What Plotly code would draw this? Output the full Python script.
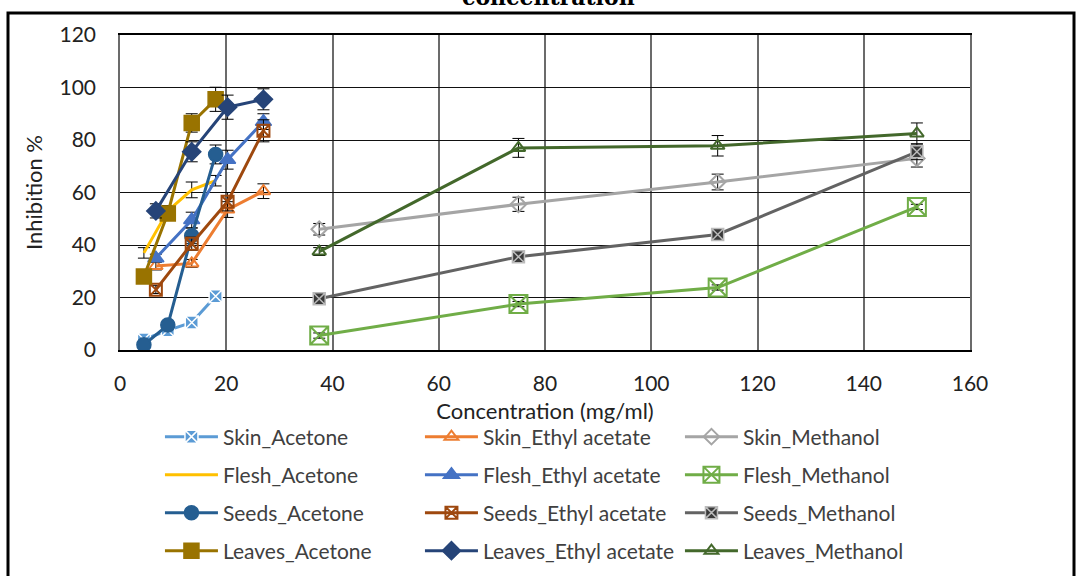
import plotly.graph_objects as go

# concentrations (mg/ml)
conc_acetone = [4.5, 9, 13.5, 18]
conc_ethyl = [6.75, 13.5, 20.25, 27]
conc_methanol = [37.5, 75, 112.5, 150]

# inhibition % values
skin_acetone = [4, 7.5, 10.5, 20.5]
skin_ethyl = [32, 33, 53.5, 60.5]
skin_methanol = [46, 55.5, 64, 73]
flesh_acetone = [37, 53, 61, 64.5]
flesh_ethyl = [35, 49.5, 72.5, 87]
flesh_methanol = [5.5, 17.5, 23.8, 54.5]
seeds_acetone = [2, 9.5, 43.5, 74.5]
seeds_ethyl = [23, 40.5, 56.5, 83.5]
seeds_methanol = [19.5, 35.5, 44, 75.5]
leaves_acetone = [28, 52, 86.5, 95.5]
leaves_ethyl = [53, 75.5, 92.5, 95.5]
leaves_methanol = [37.5, 77, 77.8, 82.5]

# error values
err_skin_acetone = [1, 1, 1, 1.5]
err_skin_ethyl = [1.5, 1.5, 3, 2.8]
err_skin_methanol = [2.2, 2.7, 3, 3.3]
err_flesh_acetone = [2, 2, 3, 2]
err_flesh_ethyl = [1.5, 3, 3.6, 3]
err_flesh_methanol = [1, 1, 1, 1]
err_seeds_acetone = [1, 1.5, 3, 3.6]
err_seeds_ethyl = [1.5, 2.5, 3.5, 4.2]
err_seeds_methanol = [1, 1, 1.5, 3]
err_leaves_acetone = [1.5, 2, 3.5, 4.6]
err_leaves_ethyl = [2.7, 3.8, 4.6, 4]
err_leaves_methanol = [1.5, 3.6, 3.9, 4]

x_ticks = [0, 20, 40, 60, 80, 100, 120, 140, 160]
y_ticks = [0, 20, 40, 60, 80, 100, 120]

series = [
    # name, x, y, err, color, symbol, size, marker fill, marker line color, legend
    ("Skin_Acetone", conc_acetone, skin_acetone, err_skin_acetone, "#5B9BD5", "square-x", 13, "#5B9BD5", "white", "legend"),
    ("Skin_Ethyl acetate", conc_ethyl, skin_ethyl, err_skin_ethyl, "#ED7D31", "triangle-up-open", 12, "#ED7D31", "#ED7D31", "legend"),
    ("Skin_Methanol", conc_methanol, skin_methanol, err_skin_methanol, "#A5A5A5", "diamond-open", 12, "#A5A5A5", "#A5A5A5", "legend"),
    ("Flesh_Acetone", conc_acetone, flesh_acetone, err_flesh_acetone, "#FFC000", None, 0, "#FFC000", "#FFC000", "legend2"),
    ("Flesh_Ethyl acetate", conc_ethyl, flesh_ethyl, err_flesh_ethyl, "#4472C4", "triangle-up", 14, "#4472C4", "#4472C4", "legend2"),
    ("Flesh_Methanol", conc_methanol, flesh_methanol, err_flesh_methanol, "#70AD47", "square-x-open", 18, "#70AD47", "#70AD47", "legend2"),
    ("Seeds_Acetone", conc_acetone, seeds_acetone, err_seeds_acetone, "#255E91", "circle", 14, "#255E91", "#255E91", "legend3"),
    ("Seeds_Ethyl acetate", conc_ethyl, seeds_ethyl, err_seeds_ethyl, "#9E480E", "square-x-open", 12, "#9E480E", "#9E480E", "legend3"),
    ("Seeds_Methanol", conc_methanol, seeds_methanol, err_seeds_methanol, "#636363", "square-x", 12, "#3a3a3a", "#bbbbbb", "legend3"),
    ("Leaves_Acetone", conc_acetone, leaves_acetone, err_leaves_acetone, "#997300", "square", 15, "#997300", "#997300", "legend4"),
    ("Leaves_Ethyl acetate", conc_ethyl, leaves_ethyl, err_leaves_ethyl, "#264478", "diamond", 14, "#264478", "#264478", "legend4"),
    ("Leaves_Methanol", conc_methanol, leaves_methanol, err_leaves_methanol, "#43682B", "triangle-up-open", 12, "#43682B", "#43682B", "legend4"),
]

fig = go.Figure()
for name, xs, ys, err, color, sym, size, fill, lcol, leg in series:
    kw = dict(
        x=xs, y=ys, name=name, legend=leg,
        line=dict(color=color, width=3),
        error_y=dict(type="data", array=err, visible=True, color="black", thickness=1, width=6),
    )
    if sym is None:
        kw["mode"] = "lines"
    else:
        kw["mode"] = "lines+markers"
        kw["marker"] = dict(symbol=sym, size=size, color=fill,
                            line=dict(color=lcol, width=2 if "open" in sym else 1.5))
    fig.add_trace(go.Scatter(**kw))

FONT = "Lato"
leg_common = dict(orientation="h", entrywidth=192, entrywidthmode="pixels",
                  font=dict(family=FONT, size=21, color="#404040"),
                  bgcolor="rgba(0,0,0,0)", itemwidth=53,
                  x=0.047, xanchor="left", yanchor="middle")

fig.update_layout(
    width=1077, height=576,
    margin=dict(l=120, r=107, t=35, b=226, autoexpand=False),
    paper_bgcolor="white", plot_bgcolor="white",
    font=dict(family=FONT, size=19, color="#000000"),
    showlegend=True,
    legend=dict(**leg_common, y=(350 - 437) / 315),
    legend2=dict(**leg_common, y=(350 - 475) / 315),
    legend3=dict(**leg_common, y=(350 - 513) / 315),
    legend4=dict(**leg_common, y=(350 - 551) / 315),
    xaxis=dict(range=[0, 160], tickvals=x_ticks, ticktext=[str(v) for v in x_ticks],
               showgrid=True, gridcolor="#6b6b6b", gridwidth=1.5,
               showline=True, linecolor="#000000", linewidth=1.5, mirror=True,
               zeroline=False, ticks="", ticklabelstandoff=14,
               tickfont=dict(family=FONT, size=21, color="#222"),
               title=dict(text="Concentration (mg/ml)", font=dict(family=FONT, size=22, color="#222"), standoff=10)),
    yaxis=dict(range=[0, 120], tickvals=y_ticks, ticktext=[str(v) for v in y_ticks],
               showgrid=True, gridcolor="#111111", gridwidth=1.3,
               showline=True, linecolor="#6b6b6b", linewidth=1.5, mirror=True,
               zeroline=False, ticks="", ticklabelstandoff=18,
               tickfont=dict(family=FONT, size=21, color="#222"),
               title=dict(text="Inhibition %", font=dict(family=FONT, size=22, color="#222"), standoff=11)),
)

# outer frame of the chart
fig.add_shape(type="rect", xref="paper", yref="paper",
              x0=(8 - 120) / 850, x1=(1074 - 120) / 850,
              y0=(350 - 590) / 315, y1=(350 - 13) / 315,
              line=dict(color="black", width=3), fillcolor="rgba(0,0,0,0)", layer="above")

# cut-off title
fig.add_annotation(text="<b>concentration</b>", xref="paper", yref="paper",
                   x=(548 - 120) / 850, y=(350 - 12) / 315, xanchor="center", yanchor="bottom",
                   showarrow=False, font=dict(family="DejaVu Serif", size=22, color="black"))

fig.write_html("out.html", config={"displayModeBar": False},
               post_script="document.body.style.margin='0';")
